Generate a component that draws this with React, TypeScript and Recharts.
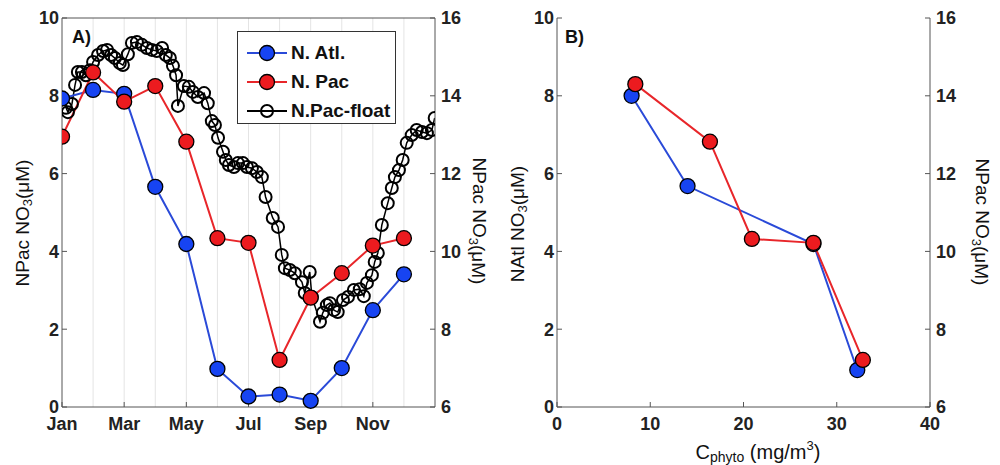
import { LineChart, Line, XAxis, YAxis, ReferenceLine, Legend } from "recharts";

const FONT = '"Liberation Sans", Arial, Helvetica, sans-serif';

// Panel A: monthly values, month index 0 = Jan
const monthIdx = [0, 1, 2, 3, 4, 5, 6, 7, 8, 9, 10, 11];
const natlNO3 = [7.93, 8.15, 8.05, 5.66, 4.19, 0.98, 0.27, 0.32, 0.16, 1.0, 2.49, 3.41];
const npacNO3 = [6.95, 8.6, 7.85, 8.25, 6.82, 4.34, 4.22, 1.21, 2.81, 3.44, 4.15, 4.34];
const monthTicks = [0, 2, 4, 6, 8, 10];
const monthLabels = ["Jan", "Mar", "May", "Jul", "Sep", "Nov"];
const gridMonths = [1, 2, 3, 4, 5, 6, 7, 8, 9, 10, 11];

// N.Pac float profile (right axis)
const floatMonth = [
  0.03, 0.13, 0.19, 0.32, 0.42, 0.51, 0.64, 0.77, 0.9, 1.0,
  1.16, 1.32, 1.45, 1.58, 1.7, 1.86, 1.96, 2.12, 2.25, 2.41,
  2.57, 2.73, 2.89, 3.05, 3.22, 3.34, 3.47, 3.57, 3.67, 3.73,
  3.92, 4.08, 4.21, 4.37, 4.57, 4.69, 4.82, 4.92, 5.02, 5.18,
  5.27, 5.37, 5.53, 5.66, 5.82, 5.95, 6.11, 6.27, 6.43, 6.55,
  6.78, 6.95, 7.07, 7.17, 7.33, 7.49, 7.72, 7.81, 7.97, 8.04,
  8.3, 8.39, 8.52, 8.62, 8.75, 8.87, 9.04, 9.2, 9.39, 9.58,
  9.71, 9.81, 9.97, 10.06, 10.16, 10.29, 10.48, 10.61, 10.71, 10.84,
  10.96, 11.09, 11.25, 11.41, 11.58, 11.74, 11.9, 11.99,
];
const floatNO3 = [
  13.94, 13.69, 13.58, 13.79, 14.28, 14.61, 14.61, 14.53, 14.66, 14.87,
  15.05, 15.15, 15.18, 15.05, 14.97, 14.84, 14.79, 15.07, 15.36, 15.38,
  15.31, 15.23, 15.18, 15.15, 15.23, 15.05, 14.97, 14.77, 14.53, 13.74,
  14.25, 14.23, 14.1, 13.97, 14.07, 13.81, 13.35, 13.25, 12.92, 12.56,
  12.35, 12.22, 12.17, 12.27, 12.27, 12.17, 12.14, 12.04, 11.91, 11.4,
  10.86, 10.63, 9.91, 9.57, 9.52, 9.44, 9.21, 8.93, 9.47, 8.83,
  8.19, 8.42, 8.62, 8.67, 8.49, 8.44, 8.75, 8.83, 9.01, 9.03,
  8.85, 9.19, 9.39, 9.73, 9.96, 10.68, 11.24, 11.63, 11.91, 12.09,
  12.35, 12.79, 12.99, 13.12, 13.07, 13.04, 13.12, 13.43,
];

// Panel B: NO3 vs phytoplankton carbon
const cphytoAtl = [8.0, 14.0, 27.5, 32.2];
const natlVsC = [8.0, 5.68, 4.19, 0.95];
const cphytoPac = [8.4, 16.4, 20.9, 27.5, 32.8];
const npacVsC = [8.3, 6.82, 4.32, 4.22, 1.21];
const cphytoTicks = [0, 10, 20, 30, 40];

const leftTicks = [0, 2, 4, 6, 8, 10];
const rightTicks = [6, 8, 10, 12, 14, 16];

const BLUE = "#1744f2";
const BLUE_LINE = "#2a4ad8";
const RED = "#ec1b1f";
const RED_LINE = "#e8262a";
const AXIS = "#555";

const natlSeries = monthIdx.map((m, i) => ({ x: m, v: natlNO3[i] }));
const npacSeries = monthIdx.map((m, i) => ({ x: m, v: npacNO3[i] }));
const floatSeries = floatMonth.map((m, i) => ({ x: m, v: floatNO3[i] }));
const atlB = cphytoAtl.map((c, i) => ({ x: c, v: natlVsC[i] }));
const pacB = cphytoPac.map((c, i) => ({ x: c, v: npacVsC[i] }));

const tickStyle = { fontSize: 18, fontWeight: 700, fill: "#222", fontFamily: FONT };
const blueDot = { r: 7.5, fill: BLUE, stroke: "#000", strokeWidth: 1.3 };
const redDot = { r: 7.5, fill: RED, stroke: "#000", strokeWidth: 1.3 };

function NO3Title({ x, y, angle, prefix }: { x: number; y: number; angle: number; prefix: string }) {
  return (
    <text
      x={x}
      y={y}
      transform={`rotate(${angle} ${x} ${y})`}
      textAnchor="middle"
      dominantBaseline="central"
      fontFamily={FONT}
      fontSize={19}
      fill="#111"
    >
      {prefix} NO
      <tspan fontSize={13} dy={5}>3</tspan>
      <tspan dy={-5}>(μM)</tspan>
    </text>
  );
}

function CTitle() {
  return (
    <text x={258} y={452} textAnchor="middle" dominantBaseline="central" fontFamily={FONT} fontSize={20} fill="#111">
      C<tspan fontSize={14} dy={5}>phyto</tspan>
      <tspan dy={-5}> (mg/m</tspan>
      <tspan fontSize={13} dy={-7}>3</tspan>
      <tspan dy={7}>)</tspan>
    </text>
  );
}

const legendRows = [
  { name: "N. Atl.", stroke: BLUE_LINE, fill: BLUE },
  { name: "N. Pac", stroke: RED_LINE, fill: RED },
  { name: "N.Pac-float", stroke: "#000", fill: "none" },
];

function SeriesLegend() {
  return (
    <div
      style={{
        boxSizing: "border-box",
        width: 159,
        height: 93,
        paddingTop: 6,
        border: "1px solid #333",
        background: "#fff",
        fontFamily: FONT,
        fontWeight: 700,
        fontSize: 19,
        color: "#111",
      }}
    >
      {legendRows.map((row) => (
        <div key={row.name} style={{ display: "flex", alignItems: "center", height: 29 }}>
          <svg width={53} height={20}>
            <line x1={9} x2={49} y1={10} y2={10} stroke={row.stroke} strokeWidth={2} />
            <circle
              cx={29}
              cy={10}
              r={row.fill === "none" ? 6 : 7.5}
              fill={row.fill}
              stroke="#000"
              strokeWidth={row.fill === "none" ? 2 : 1.3}
            />
          </svg>
          <span>{row.name}</span>
        </div>
      ))}
    </div>
  );
}

function PanelTag({ left, text }: { left: number; text: string }) {
  return (
    <div
      style={{
        position: "absolute",
        left,
        top: 28,
        fontFamily: FONT,
        fontWeight: 700,
        fontSize: 18,
        lineHeight: "18px",
        color: "#111",
      }}
    >
      {text}
    </div>
  );
}

function SeasonalPanel() {
  return (
    <LineChart width={500} height={465} margin={{ top: 18, right: 25, bottom: 28, left: 22 }}>
      <XAxis
        dataKey="x"
        type="number"
        domain={[0, 12]}
        ticks={monthTicks}
        tickFormatter={(v: number) => monthLabels[monthTicks.indexOf(v)] ?? ""}
        height={30}
        stroke={AXIS}
        tick={tickStyle}
        tickSize={-5}
        tickMargin={15}
        allowDataOverflow
      />
      <YAxis
        yAxisId="left"
        type="number"
        domain={[0, 10]}
        ticks={leftTicks}
        width={40}
        stroke={AXIS}
        tick={tickStyle}
        tickSize={-5}
        tickMargin={8}
        label={{ content: () => <NO3Title x={22} y={223} angle={-90} prefix="NPac" /> }}
      />
      <YAxis
        yAxisId="right"
        orientation="right"
        type="number"
        domain={[6, 16]}
        ticks={rightTicks}
        width={40}
        stroke={AXIS}
        tick={tickStyle}
        tickSize={-5}
        tickMargin={11}
        label={{ content: () => <NO3Title x={479} y={221} angle={90} prefix="NPac" /> }}
      />
      {gridMonths.map((m) => (
        <ReferenceLine key={m} x={m} yAxisId="left" stroke="#e4e4e4" strokeWidth={1} />
      ))}
      <ReferenceLine y={10} yAxisId="left" stroke={AXIS} />
      <Line
        yAxisId="right"
        data={floatSeries}
        dataKey="v"
        name="N.Pac-float"
        type="linear"
        stroke="#000"
        strokeWidth={1.5}
        dot={{ r: 6, fill: "none", stroke: "#000", strokeWidth: 2 }}
        activeDot={false}
        isAnimationActive={false}
      />
      <Line
        yAxisId="left"
        data={natlSeries}
        dataKey="v"
        name="N. Atl."
        type="linear"
        stroke={BLUE_LINE}
        strokeWidth={2}
        dot={blueDot}
        activeDot={false}
        isAnimationActive={false}
      />
      <Line
        yAxisId="left"
        data={npacSeries}
        dataKey="v"
        name="N. Pac"
        type="linear"
        stroke={RED_LINE}
        strokeWidth={2}
        dot={redDot}
        activeDot={false}
        isAnimationActive={false}
      />
      <Legend
        layout="vertical"
        align="center"
        verticalAlign="middle"
        content={() => <SeriesLegend />}
        wrapperStyle={{ left: 237, top: 31, width: "auto", height: "auto" }}
      />
    </LineChart>
  );
}

function CphytoPanel() {
  return (
    <LineChart width={500} height={465} margin={{ top: 18, right: 30, bottom: 28, left: 17 }}>
      <XAxis
        dataKey="x"
        type="number"
        domain={[0, 40]}
        ticks={cphytoTicks}
        height={30}
        stroke={AXIS}
        tick={tickStyle}
        tickSize={-5}
        tickMargin={15}
        label={{ content: () => <CTitle /> }}
      />
      <XAxis
        xAxisId="top"
        orientation="top"
        type="number"
        domain={[0, 40]}
        ticks={cphytoTicks}
        height={0}
        stroke={AXIS}
        tick={false}
        tickSize={-5}
        allowDataOverflow
      />
      <YAxis
        yAxisId="left"
        type="number"
        domain={[0, 10]}
        ticks={leftTicks}
        width={40}
        stroke={AXIS}
        tick={tickStyle}
        tickSize={-5}
        tickMargin={8}
        label={{ content: () => <NO3Title x={17} y={224} angle={-90} prefix="NAtl" /> }}
      />
      <YAxis
        yAxisId="right"
        orientation="right"
        type="number"
        domain={[6, 16]}
        ticks={rightTicks}
        width={40}
        stroke={AXIS}
        tick={tickStyle}
        tickSize={-5}
        tickMargin={11}
        allowDataOverflow
        label={{ content: () => <NO3Title x={482} y={222} angle={90} prefix="NPac" /> }}
      />
      <Line
        yAxisId="left"
        data={atlB}
        dataKey="v"
        name="N. Atl."
        type="linear"
        stroke={BLUE_LINE}
        strokeWidth={2}
        dot={blueDot}
        activeDot={false}
        isAnimationActive={false}
      />
      <Line
        yAxisId="left"
        data={pacB}
        dataKey="v"
        name="N. Pac"
        type="linear"
        stroke={RED_LINE}
        strokeWidth={2}
        dot={redDot}
        activeDot={false}
        isAnimationActive={false}
      />
    </LineChart>
  );
}

export default function App() {
  return (
    <div style={{ position: "absolute", left: 0, top: 0, width: 1000, height: 465, background: "#fff" }}>
      <div style={{ position: "absolute", left: 0, top: 0 }}>
        <SeasonalPanel />
      </div>
      <div style={{ position: "absolute", left: 500, top: 0 }}>
        <CphytoPanel />
      </div>
      <PanelTag left={72} text="A)" />
      <PanelTag left={565} text="B)" />
    </div>
  );
}
